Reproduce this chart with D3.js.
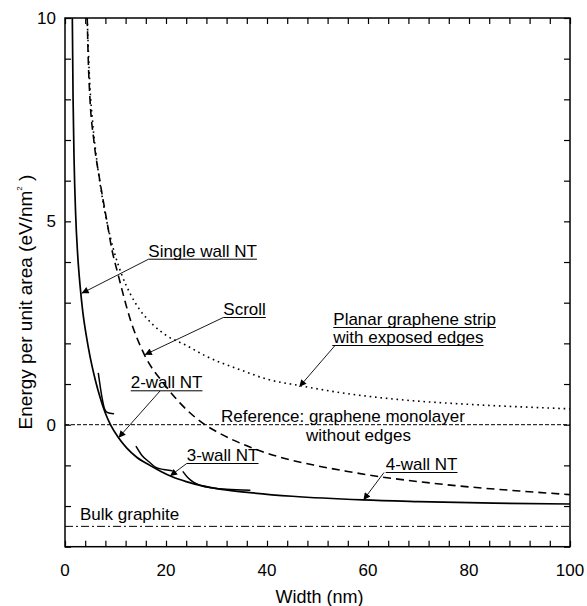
<!DOCTYPE html>
<html>
<head>
<meta charset="utf-8">
<script src="https://cdn.jsdelivr.net/npm/d3@7"></script>
<style>
  html, body { margin: 0; padding: 0; background: #fff; }
  svg { display: block; }
  text { font-family: "Liberation Sans", Arial, sans-serif; fill: #000; }
</style>
</head>
<body>
<div id="chart"></div>
<script>
// ---------- data ----------
const xTickLabels = [0, 20, 40, 60, 80, 100];
const yTickLabels = [0, 5, 10];
const referenceLevel = 0;      // graphene monolayer without edges
const bulkGraphiteLevel = -2.5;

// main solid curve (single wall NT envelope)
const singleWallX = [1.45, 1.6, 1.8, 2.1, 2.5, 3.0, 3.5, 4.2, 5.0, 6.0, 7.0, 8.0, 9.0, 10.6, 12.2, 14.2, 16.8, 19, 21, 24, 27, 31, 36.6, 45, 59, 70, 85, 100];
const singleWallY = [10, 8, 6.5, 5.2, 4.2, 3.4, 2.8, 2.2, 1.65, 1.1, 0.65, 0.28, 0, -0.32, -0.57, -0.8, -1.0, -1.15, -1.27, -1.4, -1.5, -1.59, -1.67, -1.76, -1.85, -1.89, -1.93, -1.95];

// short solid branches
const twoWallX = [6.6, 7.0, 7.4, 7.8, 8.4, 9.6];
const twoWallY = [1.26, 0.92, 0.62, 0.4, 0.3, 0.27];
const threeWallX = [14.1, 15.2, 16.8, 18.1, 19.5, 21.2];
const threeWallY = [-0.54, -0.75, -0.93, -1.06, -1.1, -1.13];
const fourWallX = [23.4, 24.3, 25.5, 27, 29, 32, 36.6];
const fourWallY = [-1.16, -1.3, -1.42, -1.5, -1.55, -1.59, -1.61];

// scroll (dashed)
const scrollX = [4.4, 4.6, 4.95, 5.7, 6.9, 8.3, 9.3, 10.5, 12.9, 15.8, 19.5, 22.8, 27.7, 30, 33, 36, 39, 42.6, 49.5, 56, 62.4, 70, 80, 90, 100];
const scrollY = [10, 9, 8, 7, 6, 5, 4.3, 3.7, 2.6, 1.7, 1.02, 0.53, 0, -0.17, -0.36, -0.52, -0.66, -0.8, -1.0, -1.15, -1.28, -1.4, -1.53, -1.63, -1.72];

// planar graphene strip with exposed edges (dotted)
const planarX = [4.4, 4.9, 5.5, 6.3, 7.5, 9, 11.2, 13, 14.85, 17.5, 20, 24, 28, 34.7, 40, 46.5, 55, 66, 80, 90, 100];
const planarY = [10, 8.4, 7.4, 6.5, 5.5, 4.6, 3.7, 3.2, 2.82, 2.45, 2.2, 1.95, 1.68, 1.35, 1.12, 0.96, 0.78, 0.62, 0.5, 0.44, 0.39];

// ---------- layout ----------
const W = 587, H = 606;
const margin = { left: 65, right: 17, top: 18, bottom: 59.3 };
const FONT = 17;

const svg = d3.select("#chart").append("svg").attr("width", W).attr("height", H);

const x = d3.scaleLinear().domain([0, 100]).range([margin.left, W - margin.right]);
const y = d3.scaleLinear().domain([-3, 10]).range([H - margin.bottom, margin.top]);

const defs = svg.append("defs");
defs.append("clipPath").attr("id", "plotclip").append("rect")
  .attr("x", x(0)).attr("y", y(10)).attr("width", x(100) - x(0)).attr("height", y(-3) - y(10));
defs.append("marker").attr("id", "arrow")
  .attr("viewBox", "0 0 10 10").attr("refX", 10).attr("refY", 5)
  .attr("markerWidth", 10).attr("markerHeight", 7).attr("markerUnits", "userSpaceOnUse")
  .attr("orient", "auto")
  .append("path").attr("d", "M0,0 L10,5 L0,10 Z").attr("fill", "#000");

// ---------- axes (ticks inward on all four sides) ----------
const minorX = d3.range(0, 101, 4);
const minorY = d3.range(-3, 11, 1);
const TL = 6;

svg.append("g").attr("transform", `translate(0,${y(-3)})`)
  .call(d3.axisBottom(x).tickValues(minorX).tickSizeInner(-TL).tickSizeOuter(0).tickFormat(""))
  .call(g => g.select(".domain").remove());
svg.append("g").attr("transform", `translate(0,${y(10)})`)
  .call(d3.axisTop(x).tickValues(minorX).tickSizeInner(-TL).tickSizeOuter(0).tickFormat(""))
  .call(g => g.select(".domain").remove());
svg.append("g").attr("transform", `translate(${x(0)},0)`)
  .call(d3.axisLeft(y).tickValues(minorY).tickSizeInner(-TL).tickSizeOuter(0).tickFormat(""))
  .call(g => g.select(".domain").remove());
svg.append("g").attr("transform", `translate(${x(100)},0)`)
  .call(d3.axisRight(y).tickValues(minorY).tickSizeInner(-TL).tickSizeOuter(0).tickFormat(""))
  .call(g => g.select(".domain").remove());
svg.selectAll(".tick line").attr("stroke", "#000").attr("stroke-width", 1.2);

// tick labels
svg.append("g").selectAll("text").data(xTickLabels).join("text")
  .attr("x", d => x(d)).attr("y", y(-3) + 29)
  .attr("text-anchor", "middle").attr("font-size", FONT).text(d => d);
svg.append("g").selectAll("text").data(yTickLabels).join("text")
  .attr("x", x(0) - 9).attr("y", d => y(d) + 6)
  .attr("text-anchor", "end").attr("font-size", FONT).text(d => d);

// axis titles
svg.append("text").attr("x", (x(0) + x(100)) / 2 + 2).attr("y", H - 3)
  .attr("text-anchor", "middle").attr("font-size", 18).text("Width (nm)");
const yt = svg.append("text").attr("transform", `translate(32,302) rotate(-90)`)
  .attr("text-anchor", "middle").attr("font-size", 19);
yt.append("tspan").text("Energy per unit area (eV/nm");
yt.append("tspan").attr("font-size", 8).attr("dy", -10).text("2");
yt.append("tspan").attr("dy", 10).text(" )");

// ---------- reference lines ----------
const plot = svg.append("g").attr("clip-path", "url(#plotclip)");
plot.append("line").attr("x1", x(0)).attr("x2", x(100))
  .attr("y1", y(referenceLevel)).attr("y2", y(referenceLevel))
  .attr("stroke", "#000").attr("stroke-width", 1).attr("stroke-dasharray", "4,2");
plot.append("line").attr("x1", x(0)).attr("x2", x(100))
  .attr("y1", y(bulkGraphiteLevel)).attr("y2", y(bulkGraphiteLevel))
  .attr("stroke", "#000").attr("stroke-width", 1).attr("stroke-dasharray", "8,3,2,3");

// ---------- curves ----------
const line = d3.line().x(d => x(d[0])).y(d => y(d[1])).curve(d3.curveMonotoneX);
const zip = (xs, ys) => xs.map((v, i) => [v, ys[i]]);

const series = [
  { xs: planarX, ys: planarY, dash: "1.6,3.8", w: 1.6, cap: "butt" },
  { xs: scrollX, ys: scrollY, dash: "8,5", w: 1.6, cap: "butt" },
  { xs: singleWallX, ys: singleWallY, dash: null, w: 1.7 },
  { xs: twoWallX, ys: twoWallY, dash: null, w: 1.5 },
  { xs: threeWallX, ys: threeWallY, dash: null, w: 1.5 },
  { xs: fourWallX, ys: fourWallY, dash: null, w: 1.5 }
];
series.forEach(s => {
  plot.append("path").datum(zip(s.xs, s.ys))
    .attr("d", line).attr("fill", "none").attr("stroke", "#000")
    .attr("stroke-width", s.w)
    .attr("stroke-dasharray", s.dash)
    .attr("stroke-linecap", s.cap || "round");
});

// frame
svg.append("rect").attr("x", x(0)).attr("y", y(10))
  .attr("width", x(100) - x(0)).attr("height", y(-3) - y(10))
  .attr("fill", "none").attr("stroke", "#000").attr("stroke-width", 1.5);

// ---------- annotations ----------
function label(lines, anchorData, fromData, toData, underline) {
  const g = svg.append("g");
  lines.forEach((t, i) => {
    const tx = g.append("text").attr("x", x(anchorData[0])).attr("y", y(anchorData[1]) + i * 18)
      .attr("font-size", FONT).text(t);
    if (underline) {
      const bb = tx.node().getBBox();
      g.append("line").attr("x1", bb.x).attr("x2", bb.x + bb.width)
        .attr("y1", y(anchorData[1]) + i * 18 + 2.5).attr("y2", y(anchorData[1]) + i * 18 + 2.5)
        .attr("stroke", "#000").attr("stroke-width", 1);
    }
  });
  if (fromData) {
    g.append("line").attr("x1", x(fromData[0])).attr("y1", y(fromData[1]))
      .attr("x2", x(toData[0])).attr("y2", y(toData[1]))
      .attr("stroke", "#000").attr("stroke-width", 0.9).attr("marker-end", "url(#arrow)");
  }
}
const px = v => x.invert(v), py = v => y.invert(v);
label(["Single wall NT"], [px(148.3), py(256.7)], [px(148.3), py(259.3)], [3.3, 3.23], true);
label(["Scroll"], [px(223.3), py(315)], [px(223.3), py(317.5)], [15.8, 1.72], true);
label(["2-wall NT"], [px(130.7), py(388.3)], [px(160), py(391)], [10.6, -0.32], true);
label(["3-wall NT"], [px(186.7), py(461)], [px(186.7), py(463.5)], [20.8, -1.26], true);
label(["4-wall NT"], [px(385.7), py(470)], [px(384), py(472.5)], [59.1, -1.85], true);
label(["Planar graphene strip", "with exposed edges"], [px(333.3), py(325)], [px(335), py(345.5)], [46.4, 0.93], true);
svg.append("text").attr("x", 221).attr("y", 421.5).attr("font-size", FONT)
  .text("Reference: graphene monolayer");
svg.append("text").attr("x", 306).attr("y", 440.5).attr("font-size", FONT)
  .text("without edges");
svg.append("text").attr("x", 80).attr("y", 520).attr("font-size", FONT)
  .text("Bulk graphite");
</script>
</body>
</html>
